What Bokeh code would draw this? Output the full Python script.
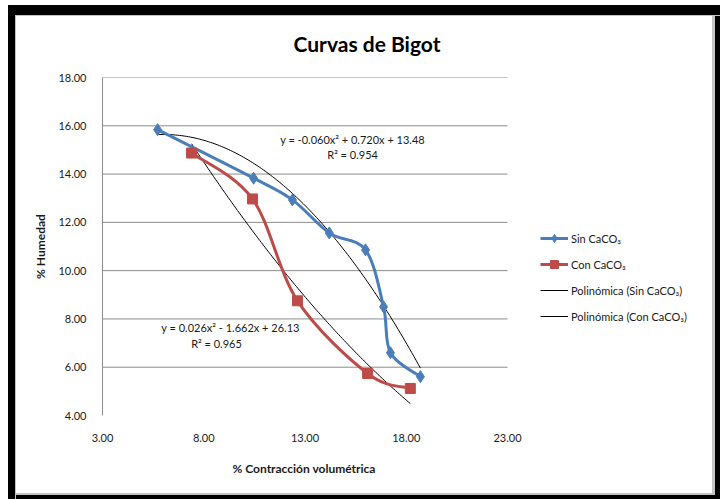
import numpy as np
from bokeh.plotting import figure
from bokeh.models import Range1d, FixedTicker, NumeralTickFormatter, Label, Legend, LegendItem, Title
from bokeh.embed import file_html
from bokeh.resources import INLINE

title_text = "Curvas de Bigot"
x_label = "% Contracción volumétrica"
y_label = "% Humedad"

x_sin = [5.72, 10.46, 12.38, 14.20, 15.99, 16.88, 17.22, 18.70]
y_sin = [15.84, 13.83, 12.93, 11.56, 10.86, 8.50, 6.60, 5.61]
x_con = [7.40, 10.41, 12.63, 16.09, 18.20]
y_con = [14.87, 12.97, 8.75, 5.74, 5.12]

coef_sin = [-0.060, 0.720, 13.48]
coef_con = [0.026, -1.662, 26.13]
eq_sin = "y = -0.060x² + 0.720x + 13.48"
r2_sin = "R² = 0.954"
eq_con = "y = 0.026x² - 1.662x + 26.13"
r2_con = "R² = 0.965"

x_ticks = [3, 8, 13, 18, 23]
y_ticks = [4, 6, 8, 10, 12, 14, 16, 18]
legend_labels = ["Sin CaCO₃", "Con CaCO₃", "Polinómica (Sin CaCO₃)", "Polinómica (Con CaCO₃)"]

BLUE = "#4A7EBB"
RED = "#BE4B48"
GRID = "#8C8C8C"
FONT = "Lato"

X_MIN, X_MAX = x_ticks[0], x_ticks[-1]
Y_MIN, Y_MAX = y_ticks[0], y_ticks[-1]
# the frame also holds the legend area on the right: same scale, wider range
X_VIEW_MAX = X_MIN + (X_MAX - X_MIN) * 610.0 / 405.0


def smooth(xs, ys):
    """Bezier segments through the data points (Excel-like smoothed line)."""
    out = {}
    for name, v in (("x", xs), ("y", ys)):
        v = np.asarray(v, float)
        n = len(v)
        pp = np.concatenate([[v[0]], v, [v[-1]]])
        out[name + "0"] = v[:-1]
        out[name + "1"] = v[1:]
        out["c" + name + "0"] = pp[1:n] + (pp[2:n + 1] - pp[0:n - 1]) / 6.0
        out["c" + name + "1"] = pp[2:n + 1] - (pp[3:n + 2] - pp[1:n]) / 6.0
    return out


p = figure(width=720, height=499, output_backend="svg", toolbar_location=None,
           x_range=Range1d(X_MIN, X_VIEW_MAX), y_range=Range1d(Y_MIN, Y_MAX),
           min_border_left=102, min_border_right=8, min_border_top=77, min_border_bottom=84)
p.styles = {"background-color": "white",
            "box-shadow": "inset 8px 5px 0 0 white, inset 15px 15px 0 0 black, "
                          "inset 16px 16px 0 0 #c4c4c4, "
                          "inset -5px -4px 0 0 black, inset -8px -6px 0 0 #c4c4c4"}
p.outline_line_color = None
p.background_fill_alpha = 0
p.border_fill_alpha = 0

# title
p.title.text = title_text
p.title.align = "left"
p.title.offset = 191
p.title.standoff = 44
p.title.text_font = FONT
p.title.text_font_size = "21px"
p.title.text_font_style = "bold"
p.title.text_color = "black"

# axes
p.xaxis.ticker = FixedTicker(ticks=x_ticks)
p.yaxis.ticker = FixedTicker(ticks=y_ticks)
p.xaxis.bounds = (X_MIN, X_MAX)
p.xaxis.formatter = NumeralTickFormatter(format="0.00")
p.yaxis.formatter = NumeralTickFormatter(format="0.00")
for ax in (p.xaxis[0], p.yaxis[0]):
    ax.major_tick_line_color = None
    ax.minor_tick_line_color = None
    ax.major_label_text_font = FONT
    ax.major_label_text_font_size = "11px"
    ax.major_label_text_color = "#1a1a1a"
    ax.axis_label_text_font = FONT
    ax.axis_label_text_font_size = "12px"
    ax.axis_label_text_font_style = "bold"
    ax.axis_label_text_color = "#1a1a1a"
p.xaxis.axis_line_color = None
p.yaxis.axis_line_color = GRID
p.yaxis.axis_label = y_label
p.xaxis.major_label_standoff = 12
p.yaxis.major_label_standoff = 10
p.yaxis.axis_label_standoff = 7
p.add_layout(Title(text=x_label, align="left", offset=130, standoff=32, vertical_align="top",
                   text_font=FONT, text_font_size="12px", text_font_style="bold",
                   text_color="#1a1a1a"), "below")

# horizontal gridlines limited to the plotted x range
p.xgrid.grid_line_color = None
p.ygrid.grid_line_color = None
p.segment(x0=X_MIN, x1=X_MAX, y0=y_ticks[1:], y1=y_ticks[1:], line_color=GRID, line_width=1)

# trendlines
xf_sin = np.linspace(min(x_sin), max(x_sin), 120)
xf_con = np.linspace(min(x_con), max(x_con), 120)
r_tsin = p.line(xf_sin, np.polyval(coef_sin, xf_sin), line_color="black", line_width=1)
r_tcon = p.line(xf_con, np.polyval(coef_con, xf_con), line_color="black", line_width=1)

# data series (smoothed lines + markers)
r_lsin = p.bezier(line_color=BLUE, line_width=3, **smooth(x_sin, y_sin))
r_msin = p.scatter(x_sin, y_sin, marker="diamond", size=12, fill_color=BLUE, line_color=BLUE)
r_lcon = p.bezier(line_color=RED, line_width=3, **smooth(x_con, y_con))
r_mcon = p.scatter(x_con, y_con, marker="square", size=10, fill_color=RED, line_color=RED)

# trendline equations
for (tx, ty, t) in ((15.35, 15.45, eq_sin), (15.35, 14.83, r2_sin),
                    (9.32, 7.64, eq_con), (8.63, 6.98, r2_con)):
    p.add_layout(Label(x=tx, y=ty, text=t, text_align="center", text_baseline="middle",
                       text_font=FONT, text_font_size="11px", text_color="#1a1a1a"))

legend = Legend(items=[
    LegendItem(label=legend_labels[0], renderers=[r_lsin, r_msin]),
    LegendItem(label=legend_labels[1], renderers=[r_lcon, r_mcon]),
    LegendItem(label=legend_labels[2], renderers=[r_tsin]),
    LegendItem(label=legend_labels[3], renderers=[r_tcon]),
], location=(438, 89), border_line_color=None, background_fill_alpha=0,
    padding=0, margin=0, spacing=6, glyph_width=28, glyph_height=20, label_height=20,
    label_standoff=3, label_text_font=FONT, label_text_font_size="11px", label_text_color="#1a1a1a")
p.add_layout(legend)

open("out.html", "w").write(file_html(p, INLINE))
